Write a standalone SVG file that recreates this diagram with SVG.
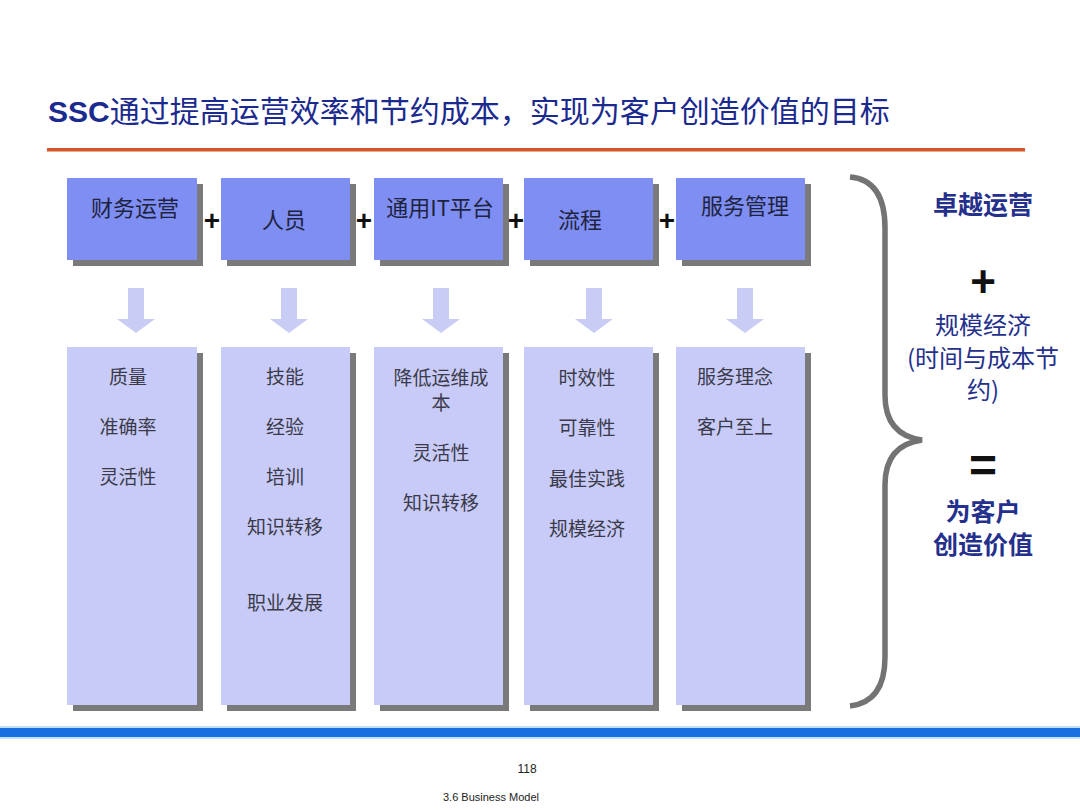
<svg xmlns="http://www.w3.org/2000/svg" width="1080" height="810" viewBox="0 0 1080 810">
<defs>
<style>
.top{fill:#7f8ef2}
.bot{fill:#c8cbf7}
.sh{fill:#7a7a7a}
.arr{fill:#c9ccf5}
.tt{font-family:"Noto Sans CJK SC","Liberation Sans",sans-serif;font-size:22px;fill:#1e2340;text-anchor:middle}
.bt{font-family:"Noto Sans CJK SC","Liberation Sans",sans-serif;font-size:19px;fill:#3a3a4a;text-anchor:middle}
.plus{font-family:"Liberation Sans",sans-serif;font-size:28px;font-weight:bold;fill:#111;text-anchor:middle}
.rt{font-family:"Noto Sans CJK SC","Liberation Sans",sans-serif;font-size:25px;fill:#24308c;text-anchor:middle}
.rs{font-family:"Noto Sans CJK SC","Liberation Sans",sans-serif;font-size:24px;fill:#24308c;text-anchor:middle}
</style>
</defs>
<rect width="1080" height="810" fill="#ffffff"/>
<text x="48" y="122" font-family="Liberation Sans,'Noto Sans CJK SC',sans-serif" font-size="30" fill="#1b2a8e"><tspan font-weight="bold">SSC</tspan><tspan font-family="'Noto Sans CJK SC',sans-serif">通过提高运营效率和节约成本，实现为客户创造价值的目标</tspan></text>
<rect x="47" y="148" width="978" height="3.5" fill="#d3562b"/>

<g id="node-caiwu"><rect class="sh" x="73" y="184" width="130" height="82"/><rect class="top" x="67" y="178" width="130" height="82"/><text class="tt" x="135" y="216">财务运营</text></g>
<g id="node-renyuan"><rect class="sh" x="227" y="184" width="129" height="82"/><rect class="top" x="221" y="178" width="129" height="82"/><text class="tt" x="284" y="228">人员</text></g>
<g id="node-it"><rect class="sh" x="380" y="184" width="129" height="82"/><rect class="top" x="374" y="178" width="129" height="82"/><text class="tt" x="440" y="216">通用IT平台</text></g>
<g id="node-liucheng"><rect class="sh" x="530" y="184" width="129" height="82"/><rect class="top" x="524" y="178" width="129" height="82"/><text class="tt" x="580" y="228">流程</text></g>
<g id="node-fuwu"><rect class="sh" x="682" y="184" width="129" height="82"/><rect class="top" x="676" y="178" width="129" height="82"/><text class="tt" x="745" y="214">服务管理</text></g>

<g id="plus-signs">
<text class="plus" x="212" y="230">+</text>
<text class="plus" x="364" y="230">+</text>
<text class="plus" x="516" y="230">+</text>
<text class="plus" x="667" y="230">+</text>
</g>

<g id="connectors">
<polygon class="arr" points="128,288 144,288 144,319 155,319 136,333 117,319 128,319"/>
<polygon class="arr" points="281,288 297,288 297,319 308,319 289,333 270,319 281,319"/>
<polygon class="arr" points="433,288 449,288 449,319 460,319 441,333 422,319 433,319"/>
<polygon class="arr" points="586,288 602,288 602,319 613,319 594,333 575,319 586,319"/>
<polygon class="arr" points="737,288 753,288 753,319 764,319 745,333 726,319 737,319"/>
</g>

<g id="node-b1"><rect class="sh" x="73" y="353" width="130" height="358"/><rect class="bot" x="67" y="347" width="130" height="358"/>
<text class="bt" x="128" y="384">质量</text><text class="bt" x="128" y="434">准确率</text><text class="bt" x="128" y="484">灵活性</text></g>
<g id="node-b2"><rect class="sh" x="227" y="353" width="129" height="358"/><rect class="bot" x="221" y="347" width="129" height="358"/>
<text class="bt" x="285" y="384">技能</text><text class="bt" x="285" y="434">经验</text><text class="bt" x="285" y="484">培训</text><text class="bt" x="285" y="534">知识转移</text><text class="bt" x="285" y="610">职业发展</text></g>
<g id="node-b3"><rect class="sh" x="380" y="353" width="129" height="358"/><rect class="bot" x="374" y="347" width="129" height="358"/>
<text class="bt" x="441" y="385">降低运维成</text><text class="bt" x="441" y="410">本</text><text class="bt" x="441" y="460">灵活性</text><text class="bt" x="441" y="510">知识转移</text></g>
<g id="node-b4"><rect class="sh" x="530" y="353" width="129" height="358"/><rect class="bot" x="524" y="347" width="129" height="358"/>
<text class="bt" x="587" y="385">时效性</text><text class="bt" x="587" y="435">可靠性</text><text class="bt" x="587" y="486">最佳实践</text><text class="bt" x="587" y="536">规模经济</text></g>
<g id="node-b5"><rect class="sh" x="682" y="353" width="129" height="358"/><rect class="bot" x="676" y="347" width="129" height="358"/>
<text class="bt" x="735" y="384">服务理念</text><text class="bt" x="735" y="434">客户至上</text></g>

<g id="brace"><path d="M850 177 Q885 180 885 228 L885 395 Q885 435 922 440 Q885 445 885 485 L885 657 Q885 702 850 706" fill="none" stroke="#737373" stroke-width="5.5"/></g>

<g id="result">
<text class="rt" x="983" y="214" font-weight="bold">卓越运营</text>
<text x="983" y="297" font-family="Liberation Sans,sans-serif" font-size="44" font-weight="bold" fill="#111" text-anchor="middle">+</text>
<text class="rs" x="983" y="334">规模经济</text>
<text class="rs" x="983" y="367">(时间与成本节</text>
<text class="rs" x="983" y="399">约)</text>
<text x="983" y="482" font-family="Liberation Sans,sans-serif" font-size="48" font-weight="bold" fill="#111" text-anchor="middle">=</text>
<text class="rt" x="983" y="521" font-weight="bold">为客户</text>
<text class="rt" x="983" y="554" font-weight="bold">创造价值</text>
</g>

<rect x="0" y="726" width="1080" height="2" fill="#bfe0ff"/>
<rect x="0" y="728" width="1080" height="9" fill="#1a6fe0"/>
<rect x="0" y="737" width="1080" height="2" fill="#bfe0ff"/>
<text x="527" y="773" font-family="Liberation Sans,sans-serif" font-size="12" fill="#222" text-anchor="middle">118</text>
<text x="491" y="801" font-family="Liberation Sans,sans-serif" font-size="11" fill="#222" text-anchor="middle">3.6 Business Model</text>
</svg>
